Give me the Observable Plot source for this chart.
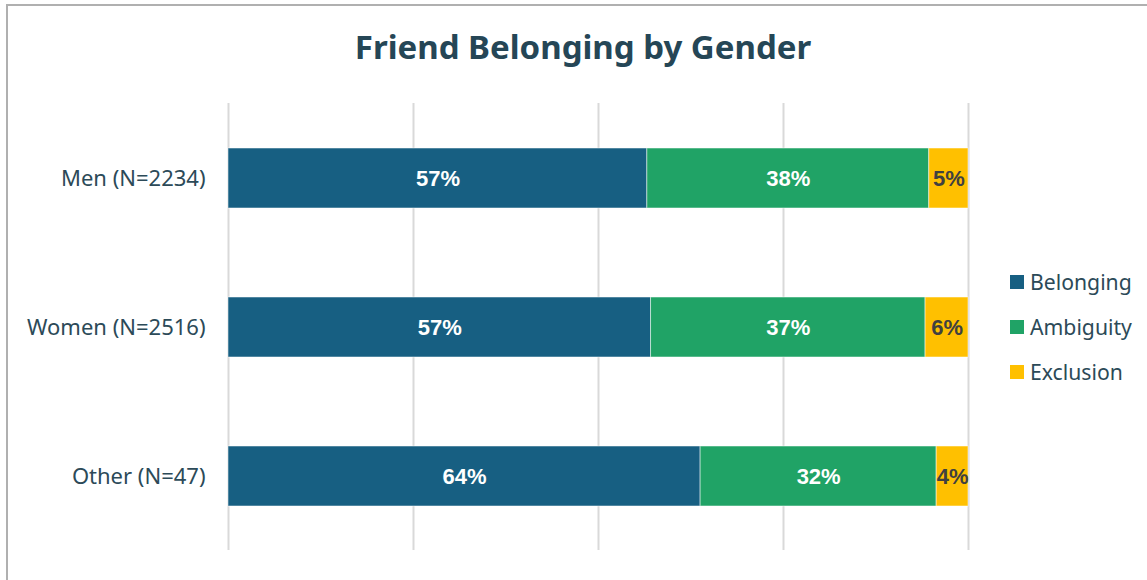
<!DOCTYPE html>
<html>
<head>
<meta charset="utf-8">
<script src="https://cdn.jsdelivr.net/npm/d3@7"></script>
<script src="https://cdn.jsdelivr.net/npm/@observablehq/plot@0.6"></script>
<style>
  html, body { margin: 0; padding: 0; background: #fff; }
  #wrap { position: relative; width: 1147px; height: 580px; overflow: hidden; font-family: "Noto Sans", sans-serif; }
  #frame { position: absolute; left: 6px; top: 4px; width: 1160px; height: 600px; border: 2px solid #b0b0b0; box-sizing: border-box; }
  #title { position: absolute; left: 0; width: 1166px; top: 24px; text-align: center; font-size: 33px; font-weight: bold; color: #254656; }
  #legend { position: absolute; left: 1010px; top: 259px; font-size: 21.2px; color: #2c4a58; }
  #legend .item { display: flex; align-items: center; height: 45px; }
  #legend .sw { width: 14px; height: 14px; margin-right: 6px; }
  #chart { position: absolute; left: 0; top: 0; }
</style>
</head>
<body>
<div id="wrap">
  <div id="frame"></div>
  <div id="chart"></div>
  <div id="title">Friend Belonging by Gender</div>
  <div id="legend"></div>
</div>
<script>
const categories = ["Men (N=2234)", "Women (N=2516)", "Other (N=47)"];
const seriesNames = ["Belonging", "Ambiguity", "Exclusion"];
const belonging = [56.6, 57.1, 63.8];
const ambiguity = [38.1, 37.1, 31.9];
const exclusion = [5.3, 5.8, 4.3];
const gridTicks = [0, 25, 50, 75, 100];
const colors = ["#175f82", "#20a366", "#ffc000"];
const labelColors = ["#ffffff", "#ffffff", "#404040"];

const seriesValues = [belonging, ambiguity, exclusion];
const rows = [];
seriesNames.forEach((s, si) => {
  categories.forEach((c, ci) => {
    rows.push({cat: c, series: s, si, value: seriesValues[si][ci]});
  });
});

const plot = Plot.plot({
  width: 1147,
  height: 580,
  marginLeft: 228,
  marginRight: 179,
  marginTop: 103,
  marginBottom: 30,
  style: {fontFamily: "Noto Sans, sans-serif", background: "transparent"},
  x: {domain: [0, 100], axis: null},
  y: {domain: categories, paddingInner: 0.6, paddingOuter: 0.3, label: null, axis: null},
  color: {domain: seriesNames, range: colors},
  marks: [
    Plot.ruleX(gridTicks, {stroke: "#d9d9d9", strokeWidth: 2}),
    Plot.barX(rows, Plot.stackX({
      x: "value", y: "cat", fill: "series", z: "series",
      order: seriesNames, stroke: "#ffffff", strokeOpacity: 0.5, strokeWidth: 1
    })),
    Plot.text(rows, Plot.stackX({
      x: "value", y: "cat", z: "series", order: seriesNames,
      text: d => Math.round(d.value) + "%",
      fill: d => labelColors[d.si],
      fontSize: 22, fontWeight: "bold", fontFamily: "Liberation Sans, Arial, sans-serif"
    })),
    Plot.axisY({tickSize: 0, tickPadding: 23, fontSize: 22, fill: "#2c4a58", label: null})
  ]
});
document.getElementById("chart").appendChild(plot);

const legend = document.getElementById("legend");
seriesNames.forEach((s, i) => {
  const item = document.createElement("div");
  item.className = "item";
  const sw = document.createElement("div");
  sw.className = "sw";
  sw.style.background = colors[i];
  const tx = document.createElement("span");
  tx.textContent = s;
  item.appendChild(sw);
  item.appendChild(tx);
  legend.appendChild(item);
});
</script>
</body>
</html>
